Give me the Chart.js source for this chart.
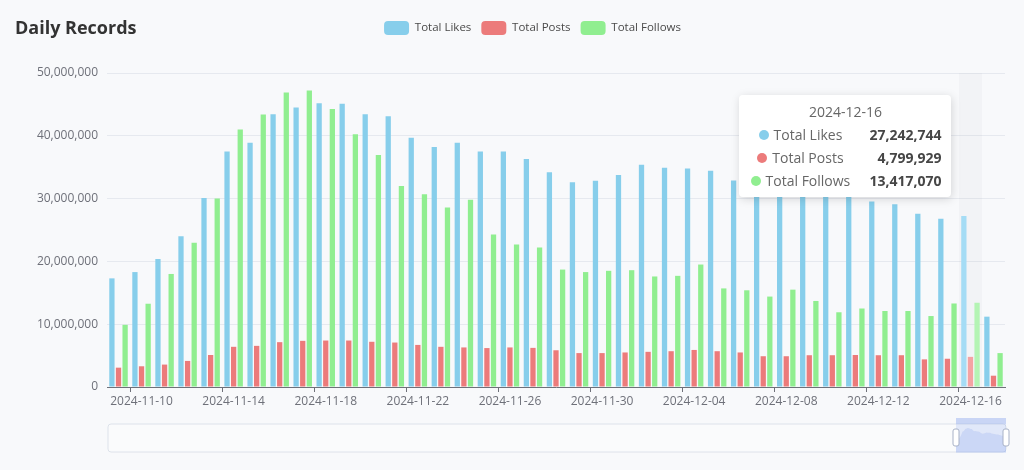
<!DOCTYPE html>
<html>
<head>
<meta charset="utf-8">
<script src="https://cdn.jsdelivr.net/npm/chart.js@4.4.1/dist/chart.umd.min.js"></script>
<style>
  html, body { margin: 0; padding: 0; background: #f8f9fb; }
  #wrap { position: relative; width: 1024px; height: 470px; font-family: "Open Sans", sans-serif; }
  #title { position: absolute; left: 15px; top: 14px; font-size: 18px; font-weight: 700; color: #333; line-height: 26px; }
  #tip { position: absolute; display: none; background: #fff; border-radius: 4px; padding: 6px 10px 5px 10px;
         box-shadow: 1px 2px 10px rgba(0,0,0,0.15); width: 192px; font-size: 14px; color: #666; pointer-events: none; }
  #tip .tt-title { text-align: center; line-height: 22px; }
  #tip table { width: 100%; border-collapse: collapse; }
  #tip td { padding: 0; line-height: 23px; white-space: nowrap; }
  #tip td.lab { text-align: center; }
  #tip td.val { text-align: right; font-weight: 700; color: #464646; padding-left: 16px; }
  #tip .dot { display: inline-block; width: 10px; height: 10px; border-radius: 5px; margin-right: 5px; vertical-align: 0px; }
</style>
</head>
<body>
<div id="wrap">
  <div id="title">Daily Records</div>
  <canvas id="recordsChart" width="1024" height="470"></canvas>
  <div id="tip"></div>
</div>
<script>
// categories (one bar group per day)
const categories = [
    '2024-11-09', '2024-11-10', '2024-11-11', '2024-11-12', '2024-11-13', '2024-11-14', '2024-11-15',
    '2024-11-16', '2024-11-17', '2024-11-18', '2024-11-19', '2024-11-20', '2024-11-21', '2024-11-22',
    '2024-11-23', '2024-11-24', '2024-11-25', '2024-11-26', '2024-11-27', '2024-11-28', '2024-11-29',
    '2024-11-30', '2024-12-01', '2024-12-02', '2024-12-03', '2024-12-04', '2024-12-05', '2024-12-06',
    '2024-12-07', '2024-12-08', '2024-12-09', '2024-12-10', '2024-12-11', '2024-12-12', '2024-12-13',
    '2024-12-14', '2024-12-15', '2024-12-16', '2024-12-17'
];

const totalLikes = [
    17300000, 18300000, 20400000, 24000000, 30100000, 37500000, 38900000,
    43450000, 44500000, 45200000, 45100000, 43450000, 43100000, 39700000,
    38200000, 38900000, 37500000, 37500000, 36300000, 34200000, 32600000,
    32850000, 33750000, 35400000, 34900000, 34800000, 34450000, 32900000,
    32300000, 31800000, 31400000, 30900000, 30400000, 29550000, 29100000,
    27600000, 26800000, 27242744, 11200000
];

const totalPosts = [
    3080000, 3300000, 3570000, 4150000, 5100000, 6400000, 6550000,
    7140000, 7350000, 7400000, 7400000, 7200000, 7080000, 6700000,
    6400000, 6300000, 6200000, 6300000, 6230000, 5850000, 5400000,
    5400000, 5500000, 5600000, 5700000, 5900000, 5700000, 5500000,
    4900000, 4900000, 5060000, 5060000, 5100000, 5060000, 5060000,
    4400000, 4500000, 4799929, 1800000
];

const totalFollows = [
    9900000, 13260000, 18000000, 22950000, 30000000, 41000000, 43400000,
    46900000, 47200000, 44250000, 40250000, 36950000, 32000000, 30700000,
    28600000, 29800000, 24300000, 22700000, 22200000, 18700000, 18300000,
    18500000, 18600000, 17600000, 17700000, 19500000, 15700000, 15400000,
    14400000, 15500000, 13700000, 11900000, 12500000, 12100000, 12100000,
    11300000, 13300000, 13417070, 5400000
];

const yTicks = [0, 10000000, 20000000, 30000000, 40000000, 50000000];

// the day the tooltip is showing
const hoverDay = '2024-12-16';

function fmt(n) {
    return String(n).replace(/\B(?=(\d{3})+(?!\d))/g, ',');
}

// grey band behind the hovered day
const shadowBand = {
    id: 'shadowBand',
    beforeDatasetsDraw(chart) {
        const {ctx, chartArea, scales: {x}} = chart;
        const i = categories.indexOf(hoverDay);
        const w = chartArea.width / categories.length;
        const cx = x.getPixelForValue(i);
        ctx.save();
        ctx.fillStyle = 'rgba(150,160,175,0.06)';
        ctx.fillRect(cx - w / 2, chartArea.top, w, chartArea.height);
        ctx.restore();
    }
};

// data zoom slider under the axis (decoration)
const zoomSlider = {
    id: 'zoomSlider',
    afterDraw(chart) {
        const {ctx, chartArea} = chart;
        const left = chartArea.left + 1, right = chartArea.right + 1;
        const top = chartArea.bottom + 37, h = 28;
        ctx.save();
        ctx.beginPath();
        ctx.roundRect(left, top, right - left, h, 3);
        ctx.fillStyle = 'rgba(255,255,255,0.35)';
        ctx.fill();
        ctx.strokeStyle = '#dde2ea';
        ctx.lineWidth = 1;
        ctx.stroke();

        // selected window
        const wl = right - 50;
        ctx.fillStyle = 'rgba(135,165,235,0.22)';
        ctx.fillRect(wl, top - 6, right - wl, h + 7);
        ctx.fillStyle = 'rgba(135,165,235,0.25)';
        ctx.fillRect(wl, top - 6, right - wl, 6);

        // shadow of likes inside window
        ctx.beginPath();
        totalLikes.forEach((v, i) => {
            const px = wl + (right - wl) * i / (totalLikes.length - 1);
            const py = top + h - 4 - (v / 50000000) * 22;
            if (i === 0) ctx.moveTo(px, py); else ctx.lineTo(px, py);
        });
        ctx.lineTo(right, top + h);
        ctx.lineTo(wl, top + h);
        ctx.closePath();
        ctx.fillStyle = 'rgba(135,165,235,0.25)';
        ctx.fill();

        // handles
        [wl, right].forEach(hx => {
            ctx.beginPath();
            ctx.roundRect(hx - 3, top + 5, 6, 17, 2);
            ctx.fillStyle = '#fff';
            ctx.fill();
            ctx.strokeStyle = '#a7b1c6';
            ctx.stroke();
        });
        ctx.restore();
    }
};

// extra gap under the legend, and shift it a bit right
const legendTweak = {
    id: 'legendTweak',
    beforeInit(chart) {
        const fit = chart.legend.fit;
        chart.legend.fit = function () {
            fit.bind(chart.legend)();
            this.height += 28;
        };
        const draw = chart.legend.draw;
        chart.legend.draw = function () {
            this.ctx.save();
            this.ctx.translate(30, 0);
            draw.call(this);
            this.ctx.restore();
        };
    }
};

function externalTooltip(context) {
    const {chart, tooltip} = context;
    const el = document.getElementById('tip');
    if (tooltip.opacity === 0 || !tooltip.dataPoints) {
        el.style.display = 'none';
        return;
    }
    const pts = tooltip.dataPoints;
    let html = '<div class="tt-title">' + pts[0].label + '</div><table>';
    pts.forEach(p => {
        html += '<tr><td class="lab"><span class="dot" style="background:' + p.dataset.backgroundColor + '"></span>' +
            p.dataset.label + '</td><td class="val">' + fmt(p.raw) + '</td></tr>';
    });
    html += '</table>';
    el.innerHTML = html;
    el.style.display = 'block';
    el.style.left = (tooltip.caretX - 19 - el.offsetWidth) + 'px';
    el.style.top = (chart.chartArea.top + 22) + 'px';
}

const chart = new Chart(document.getElementById('recordsChart'), {
    type: 'bar',
    data: {
        labels: categories,
        datasets: [
            {
                label: 'Total Likes',
                data: totalLikes,
                backgroundColor: '#87ceeb',
                hoverBackgroundColor: '#a5dcf5'
            },
            {
                label: 'Total Posts',
                data: totalPosts,
                backgroundColor: '#ec7b7b',
                hoverBackgroundColor: '#f4a3a3'
            },
            {
                label: 'Total Follows',
                data: totalFollows,
                backgroundColor: '#90ee90',
                hoverBackgroundColor: '#b4f4b4'
            }
        ]
    },
    options: {
        responsive: false,
        animation: false,
        events: [],
        categoryPercentage: 0.86,
        barPercentage: 0.8,
        layout: {
            padding: { left: 0, right: 19, top: 11, bottom: 53 }
        },
        plugins: {
            legend: {
                position: 'top',
                align: 'center',
                labels: {
                    boxWidth: 25,
                    boxHeight: 14,
                    useBorderRadius: true,
                    borderRadius: 4,
                    padding: 10,
                    color: '#4a4a4a',
                    font: { family: '"Open Sans", sans-serif', size: 11.5 }
                }
            },
            tooltip: {
                enabled: false,
                mode: 'index',
                intersect: false,
                external: externalTooltip
            }
        },
        scales: {
            x: {
                offset: true,
                grid: {
                    offset: true,
                    drawOnChartArea: false,
                    tickLength: 5,
                    tickColor: ctx => (ctx.index % 4 === 1 || ctx.index === categories.length) ? '#6e7079' : 'rgba(0,0,0,0)'
                },
                border: { color: '#6e7079' },
                ticks: {
                    autoSkip: false,
                    maxRotation: 0,
                    minRotation: 0,
                    padding: 2,
                    color: '#6e7079',
                    font: { family: '"Open Sans", sans-serif', size: 12 },
                    callback: function (val, i) {
                        return i % 4 === 1 ? this.getLabelForValue(val) : '';
                    }
                },
                afterFit: scale => { scale.height = 30; }
            },
            y: {
                min: 0,
                max: 50000000,
                afterBuildTicks: scale => { scale.ticks = yTicks.map(v => ({ value: v })); },
                grid: { color: '#e6e9ef', drawTicks: false },
                border: { display: false },
                ticks: {
                    padding: 9,
                    color: '#6e7079',
                    font: { family: '"Open Sans", sans-serif', size: 12 },
                    callback: v => fmt(v)
                },
                afterFit: scale => { scale.width = 107; }
            }
        }
    },
    plugins: [shadowBand, zoomSlider, legendTweak]
});

// show the tooltip / hover state for the marked day
const hoverIndex = categories.indexOf(hoverDay);
const activeBars = [0, 1, 2].map(d => ({ datasetIndex: d, index: hoverIndex }));
chart.setActiveElements(activeBars);
chart.tooltip.setActiveElements(activeBars, { x: chart.scales.x.getPixelForValue(hoverIndex), y: 150 });
chart.update();
</script>
</body>
</html>
